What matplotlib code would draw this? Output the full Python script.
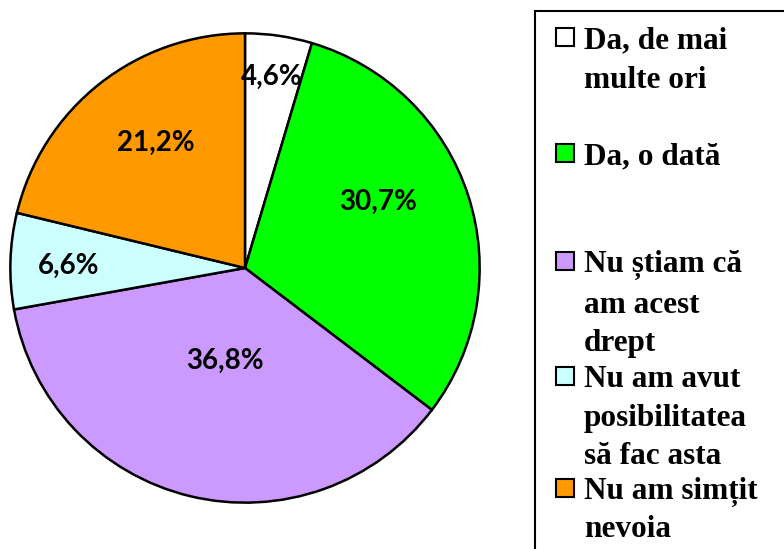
import matplotlib
matplotlib.use("Agg")
import matplotlib.pyplot as plt
from matplotlib.patches import Rectangle

categories = ["Da, de mai\nmulte ori", "Da, o dată", "Nu știam că\nam acest\ndrept",
              "Nu am avut\nposibilitatea\nsă fac asta", "Nu am simțit\nnevoia"]
values = [4.6, 30.7, 36.8, 6.6, 21.2]
labels = ["4,6%", "30,7%", "36,8%", "6,6%", "21,2%"]
colors = ["#FFFFFF", "#00FF00", "#CC99FF", "#CCFFFF", "#FF9900"]

W, H = 784, 549
fig = plt.figure(figsize=(W / 100, H / 100), dpi=100)

cx, cy, R = 245, 268, 237
ax = fig.add_axes([(cx - R) / W, (H - cy - R) / H, 2 * R / W, 2 * R / H])
wedges, _ = ax.pie(values, colors=colors, startangle=90, counterclock=False,
                   wedgeprops=dict(edgecolor="black", linewidth=1.8),
                   radius=1.0)
ax.set_xlim(-1.01, 1.01)
ax.set_ylim(-1.01, 1.01)
ax.set_aspect("equal")
ax.axis("off")

# label positions in pixels (layout)
label_px = [(272, 75), (379, 201), (225, 362), (67, 266), (155, 142)]
for lab, (px, py) in zip(labels, label_px):
    ax.text((px - cx) / R, (cy - py) / R, lab, ha="center", va="center",
            fontsize=20, fontweight="bold", family="Lato", color="black")

# legend box
fig.patches.append(Rectangle((535 / W, -0.05), 0.5, (H - 11) / H + 0.05,
                             transform=fig.transFigure, facecolor="white",
                             edgecolor="black", linewidth=1.5, zorder=0))
entry_lines = [[37, 77], [153], [261, 302, 340], [376, 415, 453], [488, 526]]
for cat, col, ys in zip(categories, colors, entry_lines):
    for line, y in zip(cat.split("\n"), ys):
        fig.text(584 / W, (H - y) / H, line, ha="left", va="center_baseline",
                 fontsize=22.5, fontweight="bold", family="Liberation Serif")
    y0 = ys[0]
    fig.patches.append(Rectangle((556 / W, (H - y0 - 9) / H), 18 / W, 18 / H,
                                 transform=fig.transFigure, facecolor=col,
                                 edgecolor="black", linewidth=1.5, zorder=3))

fig.savefig("out.png", dpi=100)
